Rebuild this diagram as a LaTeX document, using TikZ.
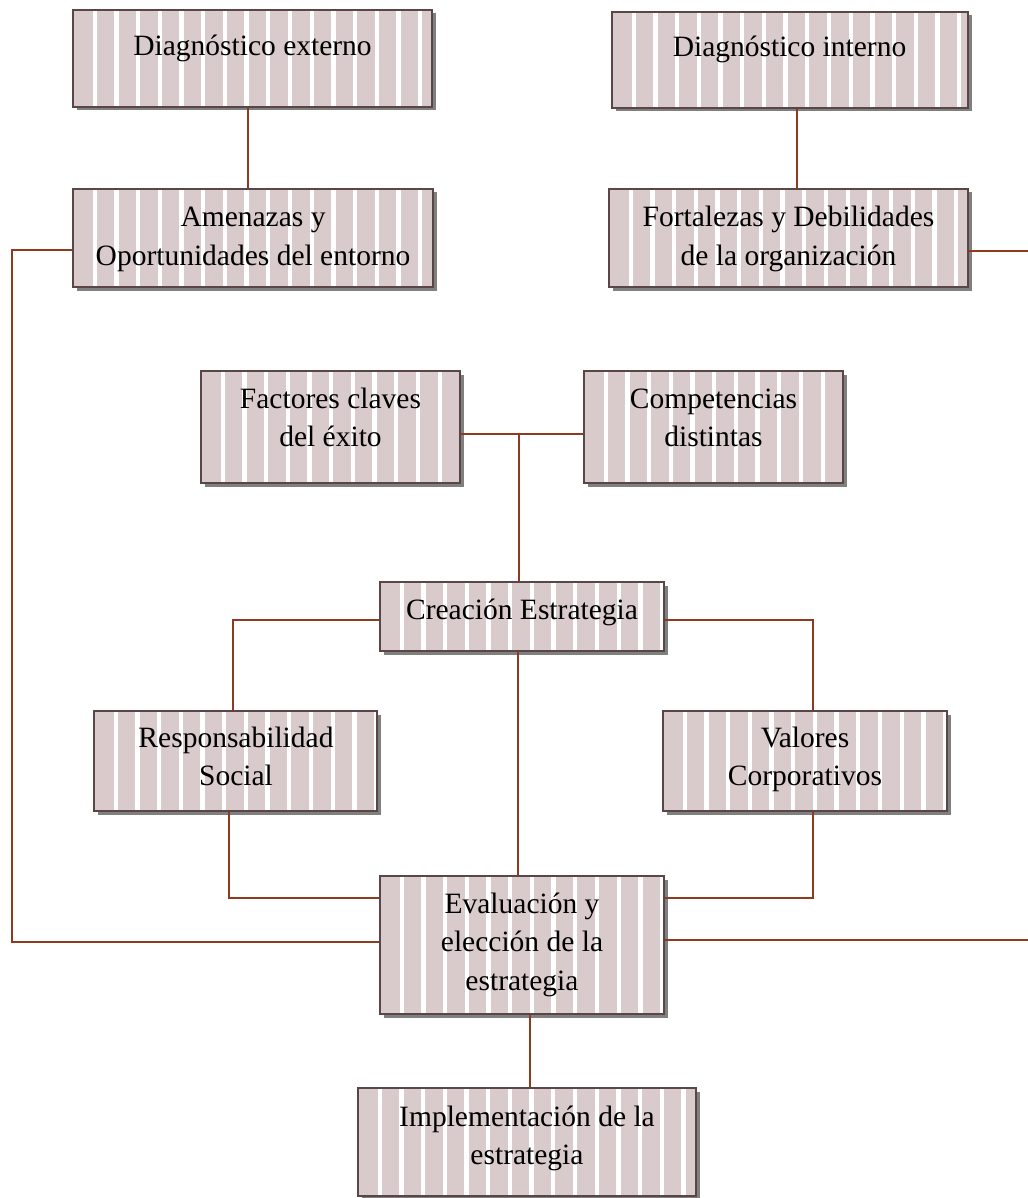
\documentclass[tikz,border=0pt]{standalone}
\usepackage{fontspec}
\setmainfont{Liberation Serif}
\usetikzlibrary{fit}
\definecolor{boxfill}{HTML}{D9CBCB}
\definecolor{bordc}{HTML}{5A4646}
\definecolor{shadowc}{HTML}{808080}
\definecolor{connc}{HTML}{8E3A1E}
\newcommand\stripedbox[5]{%
  \fill[shadowc] ({#2+3.5},{#3+3.5}) rectangle ({#4+3.5},{#5+3.5});
  \fill[boxfill] (#2,#3) rectangle (#4,#5);
  \begin{scope}
    \clip (#2,#3) rectangle (#4,#5);
    \foreach \k in {0,...,17} {\fill[white] ({#2+19.5+21.7*\k},#3) rectangle ++(4.3,{#5-#3});}
  \end{scope}
  \node[fit={(#2,#3) (#4,#5)}, inner sep=0pt, draw=bordc, line width=2pt] (#1) {};
}
\newcommand\tb[1]{\begin{tabular}[t]{@{}c@{}}#1\end{tabular}}
\tikzset{
  txt/.style={anchor=base, inner sep=0pt, font=\fontsize{29.5}{38.5}\selectfont},
  conn/.style={draw=connc, line width=2pt}
}
\begin{document}
\begin{tikzpicture}[x=1pt, y=-1pt]
\useasboundingbox (0,0) rectangle (1027,1198);
\fill[white] (0,0) rectangle (1027,1198);

\stripedbox{dext}{73}{10}{432}{107}
\stripedbox{dint}{612}{12}{968}{108}
\stripedbox{amen}{73}{189}{433}{287}
\stripedbox{fort}{609}{189}{968}{287}
\stripedbox{fact}{201}{371}{460}{483}
\stripedbox{comp}{584}{371}{843}{483}
\stripedbox{crea}{380}{582}{664}{651}
\stripedbox{resp}{94}{711}{377}{811}
\stripedbox{valo}{663}{711}{947}{811}
\stripedbox{eval}{380}{876}{664}{1014}
\stripedbox{impl}{358}{1088}{696}{1196}

\node[txt] (dext-t) at (252.5,56) {\tb{Diagnóstico externo}};
\node[txt] (dint-t) at (789.5,57) {\tb{Diagnóstico interno}};
\node[txt] (amen-t) at (253,227) {\tb{Amenazas y\\Oportunidades del entorno}};
\node[txt] (fort-t) at (788.5,227) {\tb{Fortalezas y Debilidades\\de la organización}};
\node[txt] (fact-t) at (330.5,408) {\tb{Factores claves\\del éxito}};
\node[txt] (comp-t) at (713.5,408) {\tb{Competencias\\distintas}};
\node[txt] (crea-t) at (522,619) {\tb{Creación Estrategia}};
\node[txt] (resp-t) at (236,747) {\tb{Responsabilidad\\Social}};
\node[txt] (valo-t) at (805,747) {\tb{Valores\\Corporativos}};
\node[txt] (eval-t) at (522,913) {\tb{Evaluación y\\elección de la\\estrategia}};
\node[txt] (impl-t) at (527,1126) {\tb{Implementación de la\\estrategia}};

% connectors
\coordinate (xa) at (248,0);
\coordinate (xb) at (797,0);
\coordinate (la) at (12,250);
\coordinate (lb) at (12,942);
\coordinate (ra) at (1030,251);
\coordinate (rb) at (1030,940);
\coordinate (fc) at (519,434);
\coordinate (cl) at (233,620);
\coordinate (cr) at (813,620);
\coordinate (xm) at (518,0);
\coordinate (rl) at (229,898);
\coordinate (vr) at (813,898);
\coordinate (xe) at (530,0);

\draw[conn] (dext.south -| xa) -- (amen.north -| xa);
\draw[conn] (dint.south -| xb) -- (fort.north -| xb);
\draw[conn] (amen.west |- la) -- (la) -- (lb) -- (eval.west |- lb);
\draw[conn] (fort.east |- ra) -- (ra);
\draw[conn] (eval.east |- rb) -- (rb);
\draw[conn] (fact.east |- fc) -- (comp.west |- fc);
\draw[conn] (fc) -- (crea.north -| fc);
\draw[conn] (crea.west |- cl) -- (cl) -- (resp.north -| cl);
\draw[conn] (crea.east |- cr) -- (cr) -- (valo.north -| cr);
\draw[conn] (crea.south -| xm) -- (eval.north -| xm);
\draw[conn] (resp.south -| rl) -- (rl) -- (eval.west |- rl);
\draw[conn] (valo.south -| vr) -- (vr) -- (eval.east |- vr);
\draw[conn] (eval.south -| xe) -- (impl.north -| xe);
\end{tikzpicture}
\end{document}
